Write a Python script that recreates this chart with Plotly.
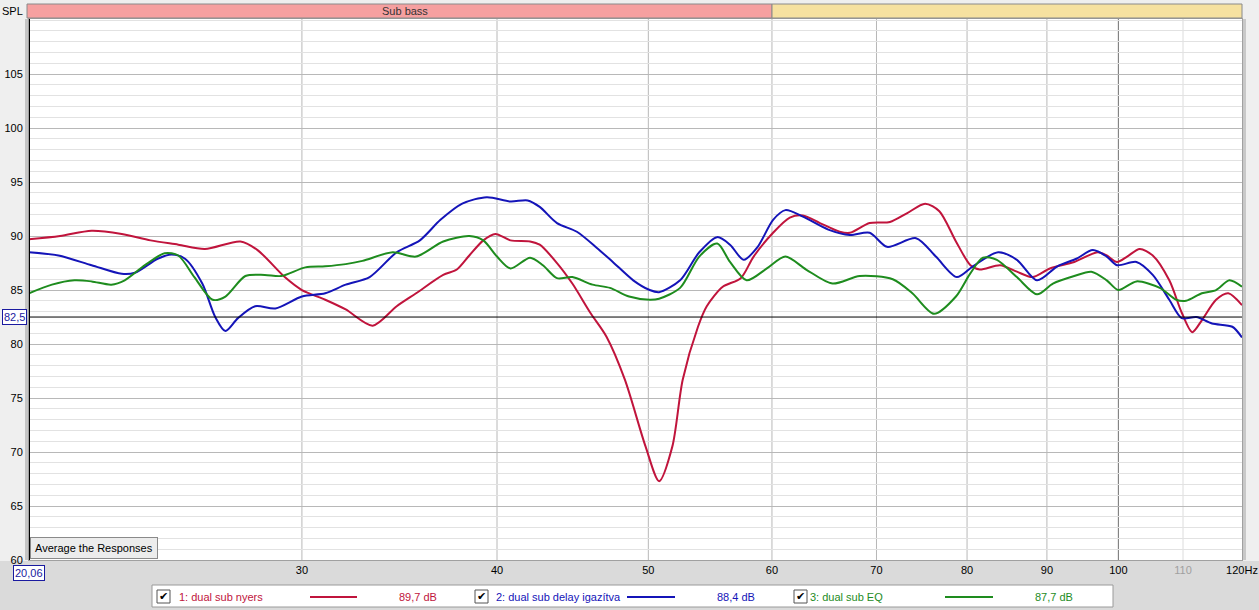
import plotly.graph_objects as go
import math

# ---------------- data ----------------
series_names = ["1: dual sub nyers", "2: dual sub delay igazítva", "3: dual sub EQ"]
series_avg = ["89,7 dB", "88,4 dB", "87,7 dB"]
series_colors = ["#c0143c", "#1414b8", "#1e8c1e"]

red_f = [20.06, 21, 22, 23, 24, 25, 26, 27.4, 28.1, 29.25, 30, 31.05, 32, 33.3, 34.5, 35.5,
         36.95, 37.7, 38.4, 39.2, 39.9, 40.8, 42, 42.6, 43.7, 44.7, 45.9, 47, 48.3, 49.8,
         50.8, 51.8, 52.6, 53.8, 54.5, 55.8, 57.3, 58.4, 60.1, 61.6, 62.8, 64.4, 66.3,
         67.3, 69.3, 71.4, 73.2, 75.2, 76.8, 78.7, 80.4, 81.5, 84, 86.1, 88.1, 90.4, 93.7,
         97, 98.3, 99.8, 101.3, 103.2, 105.2, 107.8, 109.8, 111.5, 113.1, 115.5, 117.6, 120]
red_db = [89.7, 90.0, 90.5, 90.2, 89.6, 89.2, 88.8, 89.5, 88.7, 86.2, 85.0, 84.1, 83.2, 81.7,
          83.5, 84.7, 86.4, 86.9, 88.2, 89.6, 90.2, 89.6, 89.5, 89.2, 87.5, 85.6, 82.9, 80.7,
          76.7, 70.5, 67.3, 70.5, 76.7, 81.6, 83.5, 85.3, 86.1, 88.1, 90.3, 91.7, 91.9, 91.2,
          90.4, 90.3, 91.2, 91.3, 92.1, 93.0, 92.3, 89.5, 87.3, 86.9, 87.3, 86.7, 86.2, 87.0,
          87.6, 88.5, 88.2, 87.6, 88.1, 88.8, 88.2, 85.9, 82.9, 81.1, 82.2, 84.1, 84.7, 83.6]

blue_f = [20.06, 20.95, 22, 23, 23.45, 24.25, 24.75, 25.25, 25.9, 26.4, 26.8, 27.3, 28, 28.85,
          30, 31.05, 32, 33.15, 34.5, 35.7, 36.8, 38, 39.4, 40.8, 41.85, 42.6, 43.7, 45,
          46.35, 47.45, 48.9, 50.1, 50.8, 52.4, 53.9, 55.35, 56.4, 57.55, 58.75, 60.1, 61.2,
          62.8, 65.2, 67.3, 69.3, 71.1, 74.2, 76.4, 78.8, 80.7, 83.75, 86.1, 88.7, 91.4, 94,
          96.3, 98.3, 99.8, 102.7, 105.2, 107.8, 109.8, 112.2, 114.8, 118.3, 120]
blue_db = [88.5, 88.2, 87.3, 86.5, 86.6, 87.9, 88.3, 87.9, 85.6, 82.5, 81.2, 82.4, 83.5, 83.3,
           84.4, 84.7, 85.5, 86.2, 88.5, 89.6, 91.5, 93.0, 93.6, 93.2, 93.3, 92.7, 91.2, 90.4,
           88.9, 87.6, 85.9, 85.0, 84.8, 85.9, 88.5, 89.9, 89.2, 87.8, 89.0, 91.5, 92.4, 91.8,
           90.6, 90.1, 90.3, 89.0, 89.8, 88.1, 86.2, 87.2, 88.5, 87.8, 85.9, 87.2, 87.9, 88.7,
           88.1, 87.3, 87.6, 86.4, 84.1, 82.4, 82.5, 81.9, 81.6, 80.6]

green_f = [20.06, 20.75, 21.45, 22, 22.65, 23.1, 23.8, 24.5, 25, 25.6, 26.3, 26.8, 27.6, 28.4,
           29.1, 30.15, 31.05, 32, 32.8, 34.3, 35.5, 36.95, 38.4, 39.2, 40, 40.8, 42, 42.8,
           43.7, 44.7, 46.05, 47.25, 48.6, 50.1, 50.8, 52.4, 53.9, 55.35, 56.4, 57.8, 59.55,
           61.2, 63.1, 65.6, 68.3, 71.7, 73.8, 76.2, 78.7, 80.35, 81.9, 83.6, 86.1, 88.7, 90.8,
           93.7, 96.1, 98.3, 100, 102.7, 106.3, 108.9, 110.5, 113.1, 115.5, 117.8, 120]
green_db = [84.7, 85.5, 85.9, 85.8, 85.5, 85.9, 87.3, 88.4, 88.2, 86.2, 84.1, 84.4, 86.3, 86.4,
            86.3, 87.1, 87.2, 87.4, 87.7, 88.5, 88.1, 89.5, 90.0, 89.6, 88.1, 87.0, 88.0, 87.3,
            86.1, 86.2, 85.5, 85.2, 84.4, 84.1, 84.2, 85.2, 88.1, 89.3, 87.6, 85.9, 87.0, 88.1,
            86.9, 85.6, 86.3, 86.0, 84.7, 82.8, 84.4, 86.5, 88.0, 87.8, 86.2, 84.6, 85.6, 86.3,
            86.7, 85.9, 85.0, 85.8, 85.2, 84.1, 84.0, 84.7, 85.0, 85.9, 85.3]

x_tick_vals = [30, 40, 50, 60, 70, 80, 90, 100, 110, 120]
x_tick_text = ["30", "40", "50", "60", "70", "80", "90", "100",
               "<span style='color:#a0a0a0'>110</span>", "120Hz"]
x_grid_vals = [30, 40, 50, 60, 70, 80, 90, 100, 110]
x_grid_colors = ["#b8b8b8"] * 7 + ["#707070", "#dcdcdc"]
y_tick_vals = [60, 65, 70, 75, 80, 85, 90, 95, 100, 105]

x_min, x_max = 20.06, 120
y_min, y_max = 60, 110.1
cursor_db = 82.5

W, H = 1259, 610
ML, MR, MT, MB = 29, 17, 19, 50
PW, PH = W - ML - MR, H - MT - MB


def px(xp):
    return (xp - ML) / PW


def py(yp):
    return (H - MB - yp) / PH


font = "Liberation Sans, Arial, sans-serif"

fig = go.Figure()
for f, d, c, n in zip([red_f, blue_f, green_f], [red_db, blue_db, green_db], series_colors, series_names):
    fig.add_trace(go.Scatter(x=f, y=d, mode="lines", name=n,
                             line=dict(color=c, width=2, shape="spline", smoothing=0.8),
                             hoverinfo="skip"))

shapes = []
# bottom gray area
shapes.append(dict(type="rect", xref="paper", yref="paper", x0=px(0), x1=px(W), y0=py(H), y1=py(561),
                   fillcolor="#dadada", line=dict(width=0), layer="below"))
# left shadow of plot
shapes.append(dict(type="rect", xref="paper", yref="paper", x0=px(25), x1=px(28), y0=0, y1=1,
                   fillcolor="#c4c4c4", line=dict(width=0), layer="below"))
# vertical grid
for v, c in zip(x_grid_vals, x_grid_colors):
    shapes.append(dict(type="line", xref="x", yref="paper", x0=v, x1=v, y0=0, y1=1,
                       line=dict(color=c, width=1), layer="below"))
# cursor lines
shapes.append(dict(type="line", xref="paper", yref="y", x0=0, x1=1, y0=cursor_db, y1=cursor_db,
                   line=dict(color="#000000", width=1)))
shapes.append(dict(type="line", xref="x", yref="paper", x0=x_min, x1=x_min, y0=0, y1=1,
                   line=dict(color="#000000", width=2)))
# top band
shapes.append(dict(type="rect", xref="paper", yref="paper", x0=px(27), x1=px(772), y0=py(18), y1=py(4),
                   fillcolor="#f6a0a0", line=dict(color="#8a8a8a", width=1)))
shapes.append(dict(type="rect", xref="paper", yref="paper", x0=px(772), x1=1, y0=py(18), y1=py(4),
                   fillcolor="#f6e1a0", line=dict(color="#8a8a8a", width=1)))
# legend box
shapes.append(dict(type="rect", xref="paper", yref="paper", x0=px(152), x1=px(1113), y0=py(607), y1=py(585),
                   fillcolor="#ffffff", line=dict(color="#9a9a9a", width=1)))
# right shadow of plot
shapes.append(dict(type="rect", xref="paper", yref="paper", x0=px(1243), x1=px(1246), y0=0, y1=1,
                   fillcolor="#c8c8c8", line=dict(width=0)))

annotations = []
legend_entries = [(157, 177, 310, 357, 418), (475, 494, 627, 675, 736), (794, 808, 945, 993, 1054)]
for (cb, tx, l0, l1, av), n, c, a in zip(legend_entries, series_names, series_colors, series_avg):
    shapes.append(dict(type="rect", xref="paper", yref="paper", x0=px(cb), x1=px(cb + 13),
                       y0=py(603), y1=py(590), fillcolor="#ffffff", line=dict(color="#555555", width=1)))
    annotations.append(dict(xref="paper", yref="paper", x=px(cb + 6.5), y=py(596.5), text="✔",
                            xanchor="center", yanchor="middle",
                            showarrow=False, font=dict(size=11, color="#000000", family="DejaVu Sans")))
    annotations.append(dict(xref="paper", yref="paper", x=px(tx), y=py(597), text=n, xanchor="left",
                            yanchor="middle",
                            showarrow=False, font=dict(size=11, color=c, family=font)))
    shapes.append(dict(type="line", xref="paper", yref="paper", x0=px(l0), x1=px(l1), y0=py(597), y1=py(597),
                       line=dict(color=c, width=2)))
    annotations.append(dict(xref="paper", yref="paper", x=px(av), y=py(597), text=a, xanchor="center",
                            yanchor="middle",
                            showarrow=False, font=dict(size=11, color=c, family=font)))

annotations += [
    dict(xref="paper", yref="paper", x=px(405), y=py(11), text="Sub bass", showarrow=False,
         xanchor="center", yanchor="middle", font=dict(size=11, color="#333333", family=font)),
    dict(xref="paper", yref="paper", x=px(12.5), y=py(11), text="SPL", showarrow=False,
         xanchor="center", yanchor="middle", font=dict(size=11, color="#000000", family=font)),
    dict(xref="paper", yref="y", x=px(14), y=cursor_db, text="82,5", showarrow=False,
         xanchor="center", yanchor="middle", bgcolor="#ffffff", bordercolor="#1a1aa0", borderwidth=1,
         borderpad=1, font=dict(size=11, color="#1a1aa0", family=font)),
    dict(xref="paper", yref="paper", x=px(28.5), y=py(572.5), text="20,06", showarrow=False,
         xanchor="center", yanchor="middle", bgcolor="#ffffff", bordercolor="#1a1aa0", borderwidth=1,
         borderpad=1, font=dict(size=11, color="#1a1aa0", family=font)),
    dict(xref="paper", yref="paper", x=px(94), y=py(547.5), text="Average the Responses", showarrow=False,
         xanchor="center", yanchor="middle", bgcolor="#ececec", bordercolor="#8a8a8a", borderwidth=1,
         borderpad=4, font=dict(size=11, color="#000000", family=font)),
]

fig.update_layout(
    width=W, height=H,
    margin=dict(l=ML, r=MR, t=MT, b=MB, autoexpand=False),
    paper_bgcolor="#efefef", plot_bgcolor="#ffffff",
    showlegend=False,
    shapes=shapes, annotations=annotations,
    xaxis=dict(type="log", range=[math.log10(x_min), math.log10(x_max)], automargin=False,
               tickvals=x_tick_vals, ticktext=x_tick_text, showgrid=False, zeroline=False,
               ticks="", tickfont=dict(size=11, color="#000000", family=font),
               showline=True, linecolor="#a0a0a0", mirror=True),
    yaxis=dict(range=[y_min, y_max], tickvals=y_tick_vals, showgrid=True, gridcolor="#b8b8b8",
               automargin=False, ticklabelstandoff=3,
               minor=dict(dtick=1, showgrid=True, gridcolor="#e2e2e2"),
               zeroline=False, ticks="", tickfont=dict(size=11, color="#000000", family=font),
               showline=True, linecolor="#a0a0a0", mirror=True),
)

fig.write_html("out.html", config={"displayModeBar": False},
               post_script="document.body.style.margin='0';document.body.style.overflow='hidden';")
